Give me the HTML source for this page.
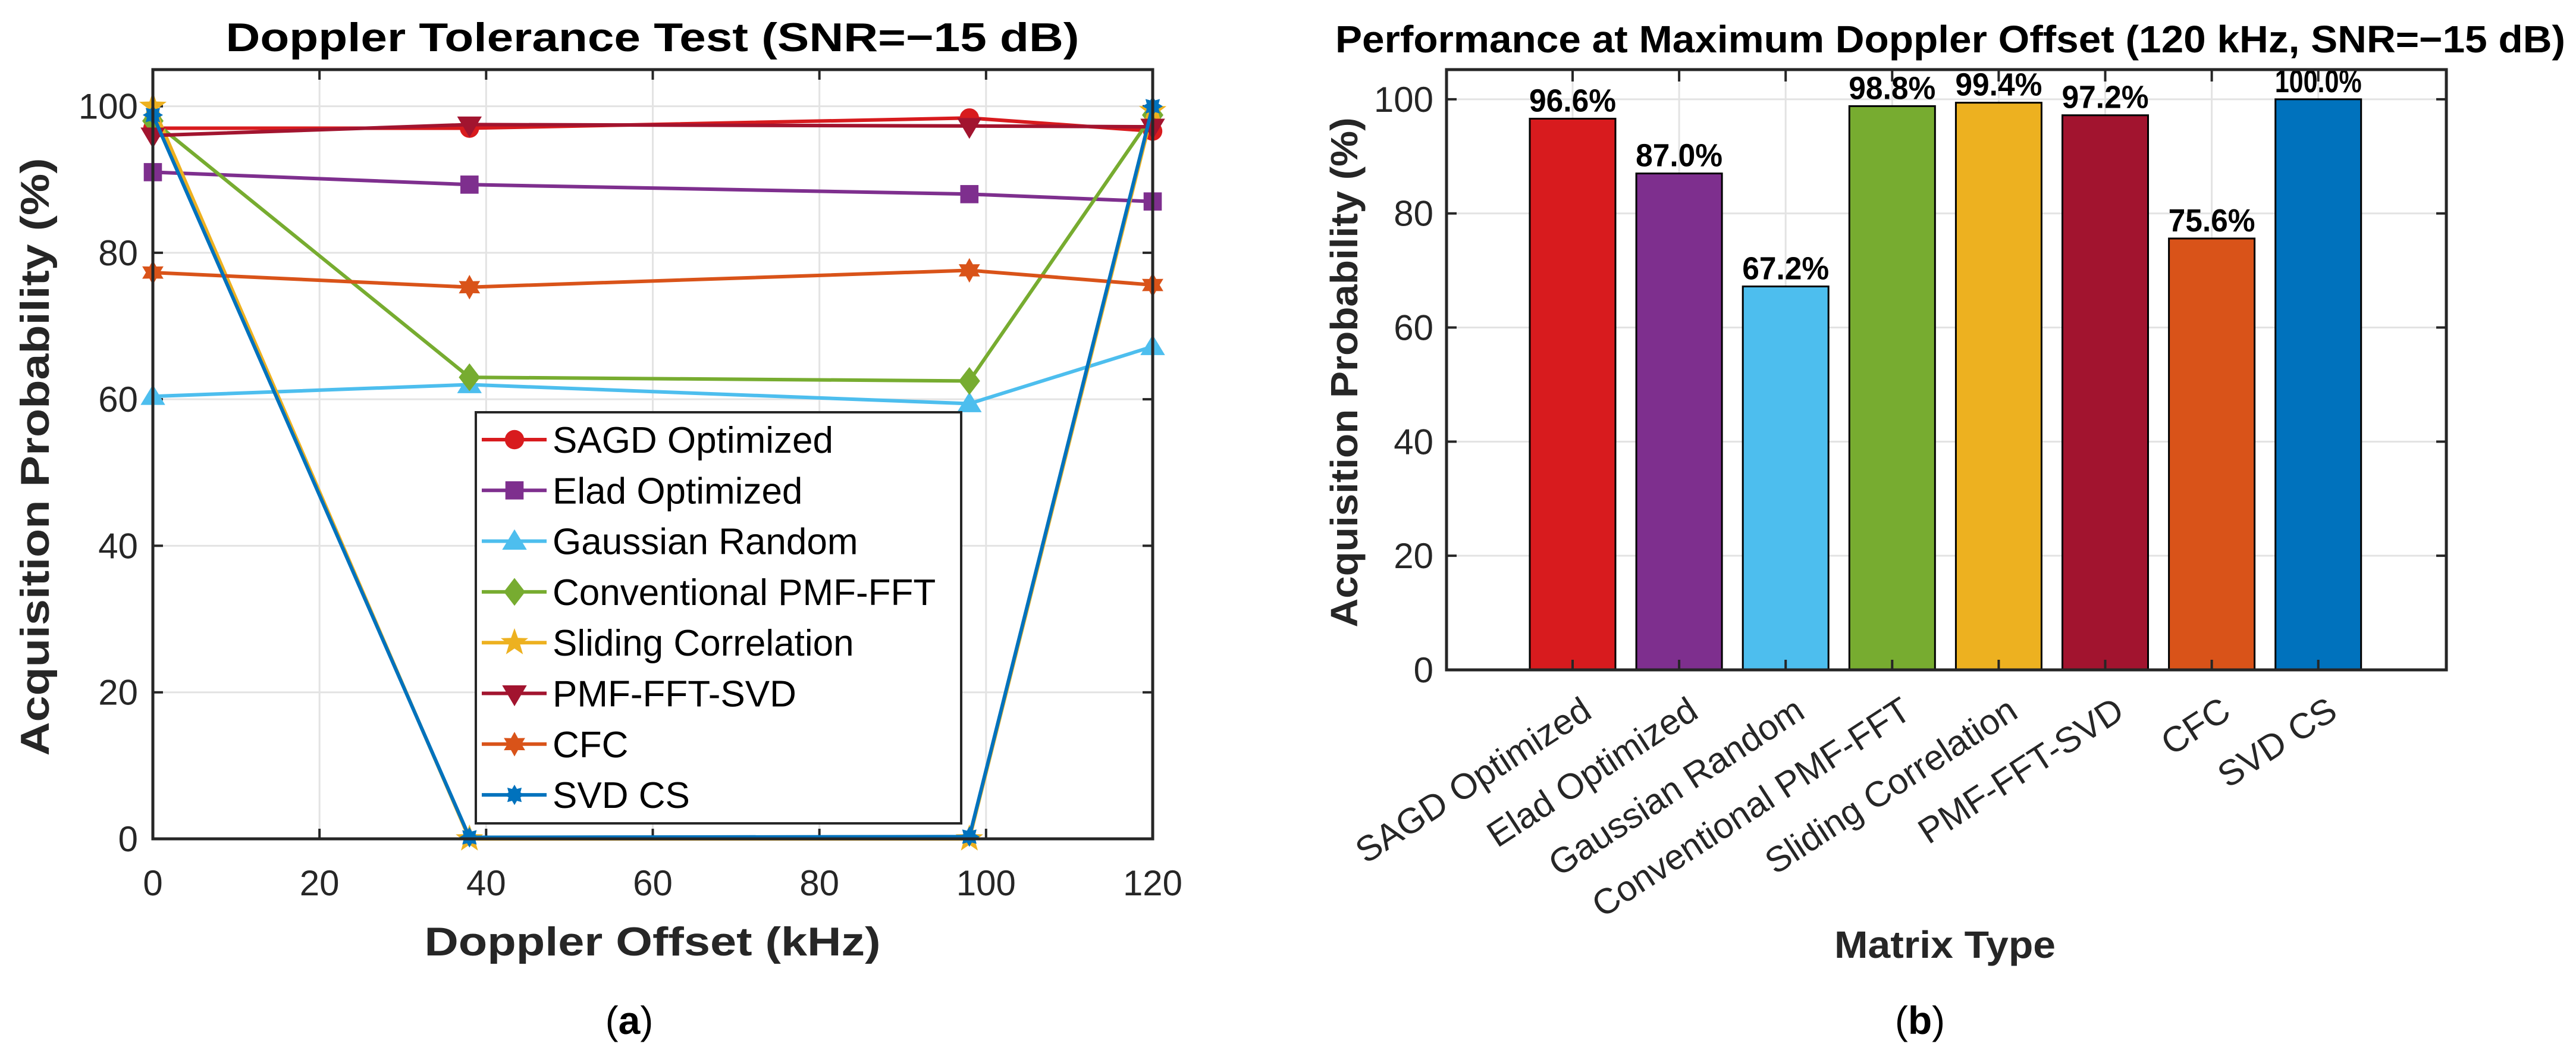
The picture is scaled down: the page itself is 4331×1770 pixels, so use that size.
<!DOCTYPE html>
<html><head><meta charset="utf-8">
<style>
html,body{margin:0;padding:0;background:#fff;}
svg{display:block;}
text{font-family:"Liberation Sans",Arial,sans-serif;}
</style></head>
<body>
<svg id="fig" width="4331" height="1770" viewBox="0 0 4331 1770" xmlns="http://www.w3.org/2000/svg">
<rect width="4331" height="1770" fill="#fff"/>
<g id="left"></g>
<g id="right"></g>
</svg>
<script>
// ---------- data: left line chart ----------
const dopplerX = [0, 38, 98, 120];
const seriesNames = ["SAGD Optimized","Elad Optimized","Gaussian Random","Conventional PMF-FFT","Sliding Correlation","PMF-FFT-SVD","CFC","SVD CS"];
const sagdVals = [97, 97, 98.4, 96.6];
const eladVals = [91, 89.3, 88, 87];
const gaussVals = [60.4, 62, 59.4, 67.2];
const convVals = [98, 63, 62.5, 98.8];
const slidingVals = [100, 0, 0, 99.4];
const pmfSvdVals = [96, 97.5, 97.3, 97.2];
const cfcVals = [77.3, 75.3, 77.6, 75.6];
const svdCsVals = [98.8, 0.2, 0.3, 100];
const xTicksLeft = [0, 20, 40, 60, 80, 100, 120];
const yTicks = [0, 20, 40, 60, 80, 100];
// ---------- data: right bar chart ----------
const barCategories = ["SAGD Optimized","Elad Optimized","Gaussian Random","Conventional PMF-FFT","Sliding Correlation","PMF-FFT-SVD","CFC","SVD CS"];
const barValues = [96.6, 87.0, 67.2, 98.8, 99.4, 97.2, 75.6, 100.0];

const NS = "http://www.w3.org/2000/svg";
function mk(parent, tag, attrs, txt){
  const e = document.createElementNS(NS, tag);
  for (const k in attrs) e.setAttribute(k, attrs[k]);
  if (txt !== undefined) e.textContent = txt;
  parent.appendChild(e);
  return e;
}
const colors = ["#D81B1E","#7E2F8E","#4DBEEE","#77AC30","#EDB120","#A2142F","#D95319","#0072BD"];
const markers = ["circle","square","tri-up","diamond","pentagram","tri-down","hexagram","asterisk"];
const allSeries = [sagdVals, eladVals, gaussVals, convVals, slidingVals, pmfSvdVals, cfcVals, svdCsVals];

function starPath(cx, cy, n, ro, ri){
  let d = "";
  for (let i = 0; i < 2*n; i++){
    const r = i%2===0 ? ro : ri;
    const a = -Math.PI/2 + i*Math.PI/n;
    d += (i===0?"M":"L") + (cx + r*Math.cos(a)).toFixed(1) + "," + (cy + r*Math.sin(a)).toFixed(1);
  }
  return d + "Z";
}
function marker(parent, type, cx, cy, col, s){
  let e;
  if (type==="circle") e = mk(parent,"circle",{cx:cx,cy:cy,r:s*0.9,fill:col});
  else if (type==="square") e = mk(parent,"rect",{x:cx-s*0.85,y:cy-s*0.85,width:s*1.7,height:s*1.7,fill:col});
  else if (type==="tri-up") e = mk(parent,"path",{d:`M${cx},${cy-s*1.1}L${cx+s*1.15},${cy+s*0.8}L${cx-s*1.15},${cy+s*0.8}Z`,fill:col});
  else if (type==="tri-down") e = mk(parent,"path",{d:`M${cx},${cy+s*1.2}L${cx+s*1.15},${cy-s*0.75}L${cx-s*1.15},${cy-s*0.75}Z`,fill:col});
  else if (type==="diamond") e = mk(parent,"path",{d:`M${cx},${cy-s*1.3}L${cx+s},${cy}L${cx},${cy+s*1.3}L${cx-s},${cy}Z`,fill:col});
  else if (type==="pentagram") e = mk(parent,"path",{d:starPath(cx,cy,5,s*1.35,s*0.55),fill:col});
  else if (type==="hexagram") e = mk(parent,"path",{d:starPath(cx,cy,6,s*1.15,s*0.65),fill:col});
  else e = mk(parent,"path",{d:starPath(cx,cy,8,s*0.95,s*0.6),fill:col});
  
  
  return e;
}

// ---------- left chart ----------
(function(){
  const g = document.getElementById("left");
  const L=257, R=1938, T=117, B=1410;
  const xs = v => L + (v-0)/(120-0)*(R-L);
  const ys = v => B - v/105*(B-T);
  const grid = mk(g,"g",{});
   
  xTicksLeft.forEach(t=>mk(grid,"line",{x1:xs(t),x2:xs(t),y1:T,y2:B,stroke:"#e3e3e3","stroke-width":3}));
  yTicks.forEach(t=>mk(grid,"line",{x1:L,x2:R,y1:ys(t),y2:ys(t),stroke:"#e3e3e3","stroke-width":3}));
  const tk = mk(g,"g",{stroke:"#262626","stroke-width":4});
   
  xTicksLeft.forEach(t=>{mk(tk,"line",{x1:xs(t),x2:xs(t),y1:B,y2:B-17});mk(tk,"line",{x1:xs(t),x2:xs(t),y1:T,y2:T+17});});
  yTicks.forEach(t=>{mk(tk,"line",{x1:L,x2:L+17,y1:ys(t),y2:ys(t)});mk(tk,"line",{x1:R,x2:R-17,y1:ys(t),y2:ys(t)});});
  allSeries.forEach((vals,si)=>{
    const sg = mk(g,"g",{});
    
    
    const pts = vals.map((v,i)=>xs(dopplerX[i]).toFixed(1)+","+ys(v).toFixed(1)).join(" ");
    const pl = mk(sg,"polyline",{points:pts,fill:"none",stroke:colors[si],"stroke-width":6,"stroke-linejoin":"round"});
    
    
    vals.forEach((v,i)=>marker(sg,markers[si],xs(dopplerX[i]),ys(v),colors[si],18));
  });
  const ax = mk(g,"rect",{x:L,y:T,width:R-L,height:B-T,fill:"none",stroke:"#262626","stroke-width":5});
   
  xTicksLeft.forEach(t=>{const e=mk(g,"text",{x:xs(t),y:1505,"font-size":60,fill:"#262626","text-anchor":"middle"},String(t));
     });
  yTicks.forEach(t=>{const e=mk(g,"text",{x:232,y:ys(t)+21,"font-size":60,fill:"#262626","text-anchor":"end"},String(t));
     });
  let e = mk(g,"text",{x:1097,y:86,"font-size":68,"font-weight":"bold","text-anchor":"middle",textLength:1435,lengthAdjust:"spacingAndGlyphs"},"Doppler Tolerance Test (SNR=\u221215 dB)");
   
  e = mk(g,"text",{x:1097,y:1606,"font-size":68,"font-weight":"bold",fill:"#262626","text-anchor":"middle",textLength:767,lengthAdjust:"spacingAndGlyphs"},"Doppler Offset (kHz)");
   
  e = mk(g,"text",{x:0,y:0,"font-size":68,"font-weight":"bold",fill:"#262626","text-anchor":"middle",textLength:1005,lengthAdjust:"spacingAndGlyphs",transform:"translate(82,768) rotate(-90)"},"Acquisition Probability (%)");
   
  e = mk(g,"text",{x:1058,y:1738,"font-size":66,"font-family":"Liberation Serif, serif","text-anchor":"middle"},"");
   
  mk(e,"tspan",{},"(");
  mk(e,"tspan",{"font-weight":"bold"},"a");
  mk(e,"tspan",{},")");
  const lg = mk(g,"g",{});
   
  mk(lg,"rect",{x:800,y:693,width:816,height:691,fill:"#fff",stroke:"#262626","stroke-width":4});
  seriesNames.forEach((n,i)=>{
    const y = 739 + i*85.3;
    const en = mk(lg,"g",{});
     
    mk(en,"line",{x1:810,x2:919,y1:y,y2:y,stroke:colors[i],"stroke-width":6});
    marker(en,markers[i],865,y,colors[i],18);
    mk(en,"text",{x:929,y:y+22,"font-size":62},n);
  });
})();

// ---------- right chart ----------
(function(){
  const g = document.getElementById("right");
  const L=2432, R=4113, T=117, B=1126;
  const xc = i => 2644 + 179.1*i;
  const ys = v => B - v/105.2*(B-T);
  const bw = 144;
  const grid = mk(g,"g",{});
   
  barCategories.forEach((c,i)=>mk(grid,"line",{x1:xc(i),x2:xc(i),y1:T,y2:B,stroke:"#e3e3e3","stroke-width":3}));
  yTicks.forEach(t=>mk(grid,"line",{x1:L,x2:R,y1:ys(t),y2:ys(t),stroke:"#e3e3e3","stroke-width":3}));
  barValues.forEach((v,i)=>{
    const r = mk(g,"rect",{x:xc(i)-bw/2,y:ys(v),width:bw,height:B-ys(v),fill:colors[i],stroke:"#000","stroke-width":3});
    
    
    const t = mk(g,"text",{x:xc(i),y:ys(v)-12,"font-size":54,"font-weight":"bold","text-anchor":"middle",textLength:146,lengthAdjust:"spacingAndGlyphs"},v.toFixed(1)+"%");
     
  });
  const tk = mk(g,"g",{stroke:"#262626","stroke-width":4});
   
  barCategories.forEach((c,i)=>{mk(tk,"line",{x1:xc(i),x2:xc(i),y1:B,y2:B-17});mk(tk,"line",{x1:xc(i),x2:xc(i),y1:T,y2:T+20});});
  yTicks.forEach(t=>{mk(tk,"line",{x1:L,x2:L+17,y1:ys(t),y2:ys(t)});mk(tk,"line",{x1:R,x2:R-17,y1:ys(t),y2:ys(t)});});
  const ax = mk(g,"rect",{x:L,y:T,width:R-L,height:B-T,fill:"none",stroke:"#262626","stroke-width":5});
   
  yTicks.forEach(t=>{const e=mk(g,"text",{x:2410,y:ys(t)+21,"font-size":60,fill:"#262626","text-anchor":"end"},String(t));
     });
  barCategories.forEach((c,i)=>{const e=mk(g,"text",{x:0,y:0,"font-size":60,fill:"#262626","text-anchor":"end","dominant-baseline":"hanging",transform:`translate(${xc(i)+12},1168) rotate(-33)`},c);
     });
  let e = mk(g,"text",{x:3279,y:88,"font-size":64,"font-weight":"bold","text-anchor":"middle",textLength:2068,lengthAdjust:"spacingAndGlyphs"},"Performance at Maximum Doppler Offset (120 kHz, SNR=\u221215 dB)");
   
  e = mk(g,"text",{x:3270,y:1610,"font-size":64,"font-weight":"bold",fill:"#262626","text-anchor":"middle",textLength:372,lengthAdjust:"spacingAndGlyphs"},"Matrix Type");
   
  e = mk(g,"text",{x:0,y:0,"font-size":64,"font-weight":"bold",fill:"#262626","text-anchor":"middle",textLength:857,lengthAdjust:"spacingAndGlyphs",transform:"translate(2282,626) rotate(-90)"},"Acquisition Probability (%)");
   
  e = mk(g,"text",{x:3228,y:1738,"font-size":66,"font-family":"Liberation Serif, serif","text-anchor":"middle"},"");
   
  mk(e,"tspan",{},"(");
  mk(e,"tspan",{"font-weight":"bold"},"b");
  mk(e,"tspan",{},")");
})();
</script>
</body></html>
